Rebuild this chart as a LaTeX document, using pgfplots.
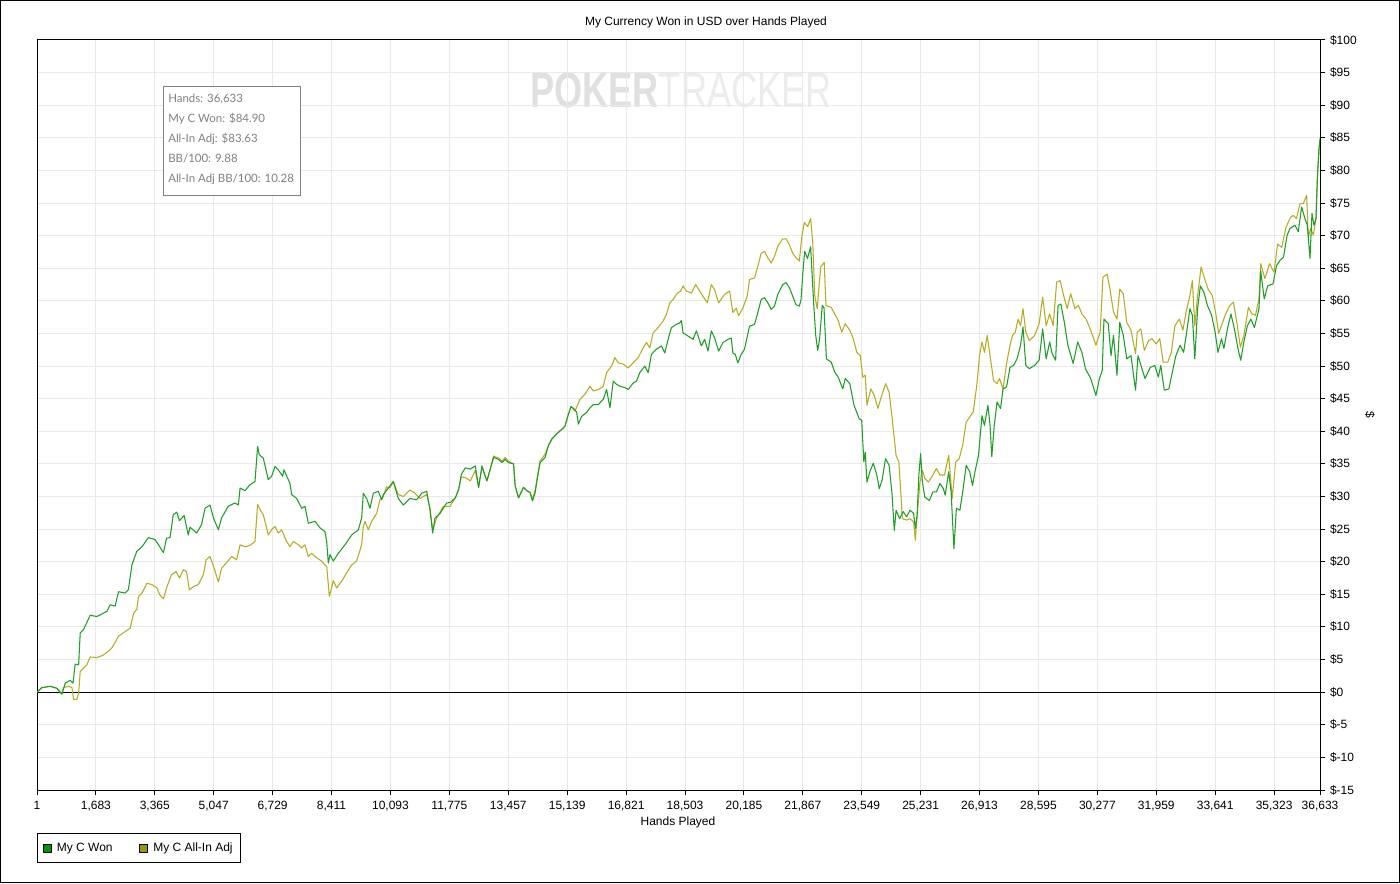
\documentclass[border=0pt]{standalone}
\usepackage{fontspec}
\setmainfont{Liberation Sans}
\newfontfamily\infofont{Lato}
\usepackage{graphicx}
\usepackage{pgfplots}
\pgfplotsset{compat=1.18}

\definecolor{wonc}{RGB}{30,158,40}
\definecolor{adjc}{RGB}{182,172,36}
\definecolor{wonleg}{RGB}{0,150,0}
\definecolor{adjleg}{RGB}{153,153,0}
\definecolor{gridc}{RGB}{233,233,233}
\definecolor{infoc}{RGB}{128,128,128}

\begin{document}
\begin{tikzpicture}[x=1pt,y=1pt]
\fill[white] (0,0) rectangle (1050,662.25);
\draw[black, line width=0.75pt] (0.375,0.375) rectangle (1049.625,661.875);
% watermark
\node[inner sep=0pt] at (510.75,594.75) {\resizebox{226pt}{26pt}{\textcolor[RGB]{224,224,224}{\bfseries POKER}\textcolor[RGB]{236,236,236}{TRACKER}}};
\begin{axis}[
  at={(27.75pt,69.75pt)}, anchor=south west,
  scale only axis, width=962.25pt, height=562.5pt,
  xmin=1, xmax=36633, ymin=-15, ymax=100,
  xtick={1,1683,3365,5047,6729,8411,10093,11775,13457,15139,16821,18503,20185,21867,23549,25231,26913,28595,30277,31959,33641,35323,36633},
  xticklabels={1,{1,683},{3,365},{5,047},{6,729},{8,411},{10,093},{11,775},{13,457},{15,139},{16,821},{18,503},{20,185},{21,867},{23,549},{25,231},{26,913},{28,595},{30,277},{31,959},{33,641},{35,323},{36,633}},
  ytick={-15,-10,-5,0,5,10,15,20,25,30,35,40,45,50,55,60,65,70,75,80,85,90,95,100},
  yticklabels={\$-15,\$-10,\$-5,\$0,\$5,\$10,\$15,\$20,\$25,\$30,\$35,\$40,\$45,\$50,\$55,\$60,\$65,\$70,\$75,\$80,\$85,\$90,\$95,\$100},
  scaled x ticks=false, scaled y ticks=false,
  xtick pos=lower, ytick pos=right, yticklabel pos=right,
  tick align=outside, major tick length=4pt,
  tick style={black, line width=0.75pt},
  axis line style={black, line width=0.75pt},
  grid=major, major grid style={gridc, line width=0.75pt},
  tick label style={font=\fontsize{9}{10}\selectfont},
  xticklabel style={yshift=-1pt},
  legend style={at={(0,-0.0573)}, anchor=north west, draw=black, line width=0.75pt,
    font=\fontsize{9}{10}\selectfont, legend columns=2, inner xsep=4pt, inner ysep=5pt,
    /tikz/every odd column/.append style={column sep=2pt},
    /tikz/every even column/.append style={column sep=18pt}},
  legend cell align=left, reverse legend,
]
\addplot[black, line width=0.75pt, forget plot] coordinates {(1,0) (36633,0)};
\addplot[adjc, line width=0.8pt, line join=round,
  legend image code/.code={\draw[fill=adjleg, draw=black, line width=0.5pt] (1.5pt,-3pt) rectangle (7.5pt,3pt);}]
coordinates {
(1,0)(140,0.7)(380,0.9)(570,0.6)(710,-0.3)(760,0.7)(900,0.9)(1000,0.7)(1045,-1.1)(1140,-1.1)(1190,-0.1)(1235,3.2)(1330,3.7)(1425,4.2)(1520,5.4)(1710,5.3)(1900,5.7)(2040,6.3)(2140,6.8)(2230,7.6)(2330,8.6)(2520,9.3)(2660,9.8)(2760,12.1)(2850,12.7)(2900,14.7)(3000,15.2)(3140,16.7)(3280,16.5)(3420,16.0)(3510,14.9)(3610,14.3)(3700,16.0)(3840,18.0)(3970,18.5)(4070,17.5)(4180,18.8)(4270,18.5)(4350,15.7)(4470,16.2)(4610,16.5)(4750,18.0)(4830,20.3)(4940,20.8)(5040,19.3)(5180,16.9)(5270,19.0)(5420,19.9)(5560,20.8)(5700,20.3)(5800,22.6)(5940,22.3)(6080,22.5)(6225,23.1)(6300,28.8)(6370,28.0)(6461,27.2)(6557,25.2)(6604,24.1)(6700,24.9)(6795,25.4)(6890,24.4)(6985,24.9)(7128,23.1)(7224,22.3)(7320,23.1)(7462,22.6)(7557,22.1)(7652,22.6)(7747,20.8)(7843,21.3)(7986,20.6)(8129,20.1)(8224,19.5)(8272,19.3)(8319,16.5)(8347,14.7)(8414,16.0)(8461,17.1)(8556,16.0)(8699,17.0)(8842,18.3)(8985,19.5)(9127,20.1)(9270,22.6)(9318,25.4)(9365,26.2)(9460,24.9)(9556,26.2)(9698,27.4)(9794,29.5)(9889,30.0)(9984,31.5)(10079,31.3)(10174,32.3)(10317,30.3)(10460,30.0)(10650,31.0)(10793,30.5)(10936,29.7)(11127,30.3)(11221,28.2)(11298,24.9)(11412,26.7)(11602,28.5)(11793,28.5)
(11946,29.8)(12041,31.1)(12117,33.0)(12231,32.9)(12373,32.4)(12515,34.0)(12610,31.4)(12705,34.5)(12781,33.4)(12847,32.4)(12942,34.2)(13037,36.2)(13180,35.9)(13274,35.4)(13369,36.0)(13464,35.4)(13607,35.0)(13654,31.6)(13749,29.8)(13891,31.4)(13986,30.9)(14081,30.6)(14148,29.6)(14224,31.0)(14300,33.5)(14366,35.5)(14508,36.5)(14603,37.8)(14698,38.8)(14840,39.6)(14983,40.3)(15077,40.8)(15172,42.6)(15248,43.8)(15362,43.1)(15505,44.9)(15647,45.7)(15789,46.9)(15884,46.2)(16027,46.4)(16169,46.9)(16264,49.0)(16406,50.0)(16501,51.3)(16596,50.5)(16738,50.3)(16881,49.7)(17023,50.5)(17165,51.3)(17308,52.8)(17403,53.6)(17497,52.8)(17592,55.1)(17735,55.9)(17877,56.9)(17972,57.9)(18067,59.7)(18162,60.2)(18285,61.2)(18380,61.5)(18447,62.3)(18542,61.5)(18684,61.2)(18808,62.5)(18921,61.5)(19016,60.7)(19140,59.7)(19254,62.5)(19349,61.7)(19462,59.7)(19633,61.0)(19775,61.5)(19870,58.2)(19965,58.9)(20031,57.7)(20155,58.9)(20278,60.7)(20345,63.3)(20487,63.5)(20582,65.3)(20677,67.3)(20772,67.6)(20867,66.6)(20962,65.8)(21057,66.8)(21152,68.4)(21294,69.5)(21389,69.5)(21484,68.6)(21579,67.3)(21673,66.6)(21768,66.1)(21840,70.0)(21911,72.0)(22006,71.4)(22090,72.6)(22150,69.0)(22207,60.8)(22277,58.8)(22377,65.2)(22477,65.9)(22527,59.3)(22677,59.0)(22777,58.0)(22877,57.0)(22977,55.2)(23078,56.5)(23208,55.5)(23308,54.2)(23408,52.1)(23508,51.6)(23578,48.3)(23648,48.6)(23698,44.0)(23808,46.5)(23909,45.5)(24009,43.5)(24109,45.3)(24229,47.3)(24329,46.0)(24409,42.4)(24529,36.3)(24609,35.3)(24709,26.6)(24829,26.4)(24930,26.6)(25030,26.1)(25080,23.3)(25130,27.1)(25210,32.2)(25280,34.0)(25350,32.8)(25450,32.2)(25580,33.3)(25680,34.3)(25781,33.3)(25911,33.3)(26031,36.3)(26131,29.7)(26231,35.3)(26331,35.8)(26431,37.9)(26531,41.4)(26631,42.2)(26732,43.0)(26832,47.0)(26912,51.6)(26982,53.7)(27052,52.1)(27132,54.7)(27212,51.6)(27312,47.8)(27412,47.3)(27482,48.1)(27583,46.5)(27683,50.4)(27783,53.2)(27853,54.7)(27933,55.2)(28013,57.2)(28083,56.2)(28153,58.8)(28233,55.2)(28333,53.9)(28484,54.7)(28614,56.5)(28714,60.6)(28814,56.2)(28914,58.0)(29014,56.2)(29114,62.9)(29214,63.1)(29314,60.8)(29414,58.8)(29515,61.1)(29635,58.8)(29735,59.3)(29835,58.0)(29955,57.2)(30085,55.5)(30235,53.2)(30355,55.2)(30435,63.6)(30555,64.1)(30636,61.8)(30736,58.3)(30836,57.2)(30916,61.8)(31016,61.1)(31116,56.7)(31236,55.5)(31366,51.9)(31416,55.2)(31517,55.7)(31617,52.4)(31737,53.9)(31837,54.2)(31957,53.4)(32057,54.2)(32157,50.6)(32288,50.6)(32388,52.1)(32488,56.2)(32618,57.2)(32718,55.5)(32818,58.5)(32918,60.8)(32988,63.1)(33058,56.2)(33138,60.8)(33238,65.2)(33339,63.4)(33439,61.8)(33559,60.8)(33659,58.0)(33739,55.0)(33839,56.5)(33939,58.0)(34059,59.3)(34159,59.8)(34259,56.7)(34359,52.9)(34459,54.7)(34590,59.0)(34690,58.0)(34790,57.8)(34890,60.3)(34940,65.7)(35060,63.4)(35190,65.7)(35321,64.4)(35421,68.7)(35541,68.2)(35661,71.3)(35791,72.8)(35869,73.1)(35960,72.6)(36061,74.9)(36156,74.9)(36251,76.2)(36299,69.8)(36366,71.1)(36442,70.1)(36518,72.6)(36566,79.7)(36613,83.8)(36633,83.6)
};
\addlegendentry{My C All-In Adj}
\addplot[wonc, line width=0.8pt, line join=round,
  legend image code/.code={\draw[fill=wonleg, draw=black, line width=0.5pt] (1.5pt,-3pt) rectangle (7.5pt,3pt);}]
coordinates {
(1,0)(140,0.7)(380,0.9)(570,0.6)(710,-0.3)(810,1.4)(950,1.8)(1030,1.4)(1090,4.3)(1190,4.2)(1235,9.1)(1330,9.6)(1520,11.8)(1710,11.6)(2000,12.4)(2090,13.4)(2230,13.2)(2330,15.4)(2520,15.2)(2610,15.7)(2710,19.5)(2850,21.6)(3000,22.3)(3180,23.7)(3370,23.4)(3470,22.6)(3610,21.4)(3700,23.6)(3800,23.7)(3890,27.2)(3990,27.6)(4070,26.3)(4200,27.1)(4320,24.1)(4370,25.3)(4560,24.4)(4700,25.7)(4800,28.2)(4940,28.7)(5040,26.7)(5180,24.9)(5270,26.7)(5460,28.5)(5650,29.0)(5750,28.7)(5800,31.3)(5940,30.9)(6080,31.8)(6225,32.3)(6253,34.3)(6300,37.7)(6347,36.4)(6461,35.9)(6604,32.6)(6700,33.1)(6795,34.6)(6890,34.1)(7015,33.1)(7052,34.1)(7224,32.0)(7272,30.3)(7415,29.7)(7557,28.2)(7652,28.5)(7747,25.9)(7938,26.2)(8081,25.2)(8224,24.6)(8272,23.1)(8319,19.8)(8366,21.1)(8461,20.1)(8604,21.3)(8794,22.6)(8985,24.1)(9175,24.9)(9270,26.7)(9318,30.5)(9413,29.7)(9508,28.2)(9603,30.5)(9746,30.8)(9841,29.5)(9889,30.3)(10032,31.3)(10174,32.3)(10317,29.7)(10460,28.7)(10650,29.7)(10841,29.5)(10984,30.5)(11127,30.8)(11221,28.0)(11298,24.4)(11364,26.7)(11507,27.4)(11697,29.0)(11803,29.1)(11946,29.8)(12041,31.1)(12117,33.4)(12231,34.4)(12373,34.2)(12515,34.7)(12610,31.4)(12705,34.7)(12781,33.4)(12847,32.4)(12942,34.2)(13037,36.0)(13180,35.7)(13274,35.2)(13369,35.7)(13464,35.2)(13607,35.0)(13654,31.6)(13749,29.8)(13891,31.4)(13986,30.9)(14081,30.6)(14148,29.3)(14224,30.6)(14300,33.2)(14366,35.2)(14508,36.0)(14603,37.8)(14698,38.8)(14840,39.6)(14983,40.3)(15077,40.8)(15172,42.6)(15248,43.8)(15343,43.4)(15410,42.9)(15457,41.1)(15552,42.3)(15694,42.9)(15789,43.6)(15884,44.1)(16027,44.1)(16169,44.9)(16264,46.4)(16359,43.6)(16454,47.7)(16549,47.2)(16644,46.9)(16786,46.7)(16881,46.4)(17023,47.4)(17118,47.7)(17213,49.0)(17355,50.0)(17450,49.0)(17545,51.8)(17688,52.6)(17830,53.1)(17925,52.0)(18020,54.1)(18115,55.9)(18257,56.4)(18352,56.6)(18399,57.0)(18447,55.1)(18589,54.6)(18732,54.1)(18827,55.4)(18969,53.1)(19064,54.1)(19159,52.3)(19254,55.4)(19349,54.3)(19462,52.3)(19586,53.6)(19728,54.1)(19823,54.3)(19870,52.0)(19937,51.8)(20012,50.5)(20107,51.8)(20202,52.6)(20345,56.1)(20487,56.4)(20582,58.2)(20677,60.2)(20772,60.5)(20867,59.7)(20962,58.7)(21057,59.2)(21152,61.0)(21294,62.5)(21389,62.8)(21484,62.0)(21579,60.7)(21673,59.4)(21768,59.2)(21816,60.2)(21870,64.5)(21920,67.6)(22000,66.5)(22090,68.3)(22177,59.5)(22235,54.7)(22290,52.4)(22347,54.2)(22420,59.3)(22470,59.0)(22540,51.1)(22677,50.6)(22777,49.1)(22877,48.3)(23008,46.5)(23078,48.1)(23208,47.3)(23328,44.0)(23478,41.9)(23548,41.7)(23608,35.3)(23648,36.8)(23698,32.2)(23778,33.8)(23879,35.1)(23979,33.3)(24049,31.2)(24129,32.5)(24229,35.8)(24329,34.8)(24409,30.7)(24479,24.8)(24529,27.9)(24629,26.6)(24729,27.7)(24829,26.9)(24930,27.9)(25030,27.4)(25080,25.1)(25130,27.1)(25180,33.3)(25230,36.6)(25280,32.2)(25350,29.9)(25480,29.4)(25580,30.7)(25680,30.7)(25781,32.0)(25881,31.2)(25931,30.2)(26031,33.8)(26101,30.7)(26181,22.0)(26251,28.2)(26351,27.9)(26431,30.7)(26531,34.8)(26631,33.8)(26712,31.7)(26782,33.8)(26882,36.3)(26982,42.4)(27052,40.9)(27152,44.0)(27212,40.9)(27262,36.1)(27332,40.9)(27412,44.5)(27512,43.5)(27583,46.5)(27683,46.8)(27783,49.8)(27883,50.1)(27983,51.1)(28083,53.2)(28153,56.0)(28233,50.1)(28333,49.6)(28484,50.1)(28614,50.9)(28714,55.7)(28814,51.1)(28914,53.7)(28984,51.9)(29084,50.9)(29154,59.3)(29234,59.5)(29334,56.7)(29434,53.2)(29585,50.4)(29715,53.7)(29835,52.1)(29935,49.6)(30085,48.1)(30235,45.5)(30335,48.1)(30415,49.3)(30465,57.2)(30586,56.5)(30666,51.6)(30736,54.7)(30836,48.6)(30916,56.7)(31016,54.7)(31116,51.1)(31236,51.6)(31366,46.3)(31436,51.6)(31537,49.8)(31637,48.1)(31787,49.8)(31917,50.1)(32017,48.3)(32087,50.1)(32187,46.3)(32318,46.5)(32418,49.1)(32518,51.6)(32638,53.2)(32738,52.1)(32818,54.9)(32918,58.8)(32988,57.8)(33058,51.1)(33138,58.8)(33218,62.3)(33319,61.3)(33419,59.3)(33539,57.8)(33639,55.2)(33719,52.1)(33819,54.2)(33889,52.7)(33989,55.7)(34089,58.0)(34189,55.7)(34289,52.7)(34369,50.9)(34459,53.7)(34560,56.2)(34660,57.2)(34760,55.9)(34890,58.8)(34940,64.6)(35040,60.3)(35140,62.3)(35291,62.6)(35391,65.4)(35491,66.2)(35591,66.7)(35691,70.0)(35774,71.1)(35917,71.6)(36012,70.6)(36108,74.4)(36204,72.6)(36271,71.6)(36346,66.5)(36404,73.4)(36461,71.6)(36518,72.6)(36556,78.7)(36604,83.3)(36633,84.9)
};
\addlegendentry{My C Won}
\end{axis}
% info box
\draw[fill=white, draw=infoc, line width=0.75pt] (122.25,515.25) rectangle (225,597);
\begin{scope}[every node/.style={anchor=west, inner sep=0pt, text=infoc, font=\infofont\fontsize{8.6}{10}\selectfont}]
\node at (126,588) {Hands: 36,633};
\node at (126,573) {My C Won: \$84.90};
\node at (126,558) {All-In Adj: \$83.63};
\node at (126,543) {BB/100: 9.88};
\node at (126,528) {All-In Adj BB/100: 10.28};
\end{scope}
% title and labels
\node[font=\fontsize{9}{10}\selectfont] at (529.5,645.75) {My Currency Won in USD over Hands Played};
\node[font=\fontsize{9}{10}\selectfont] at (508.5,45.75) {Hands Played};
\node[font=\fontsize{9}{10}\selectfont, rotate=-90] at (1027.5,351) {\$};
\end{tikzpicture}
\end{document}
